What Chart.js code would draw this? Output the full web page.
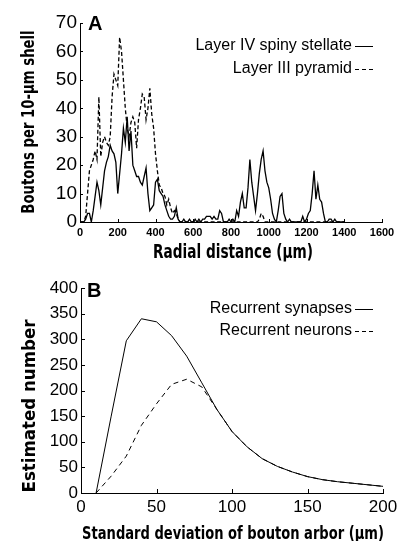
<!DOCTYPE html>
<html>
<head>
<meta charset="utf-8">
<script src="https://cdn.jsdelivr.net/npm/chart.js"></script>
<style>
  body { margin: 0; background: #fff; }
  #page { position: relative; width: 408px; height: 541px; overflow: hidden; font-family: "Liberation Sans", Arial, sans-serif; color: #000; }
  canvas { position: absolute; left: 0; }
  .txt { position: absolute; white-space: nowrap; line-height: 1; }
  .panel { font-weight: bold; font-size: 20px; }
  .title { font-family: "Liberation Sans Narrow", "DejaVu Sans Condensed", sans-serif; font-weight: bold; }
  .legend { font-size: 16px; right: 56px; text-align: right; }
  .swatch { position: absolute; left: 355px; width: 18px; height: 1px; background: #000; }
  .swatch.dash { background: repeating-linear-gradient(90deg, #000 0 4px, transparent 4px 7px); }
</style>
</head>
<body>
<div id="page">
  <canvas id="chartA" width="408" height="270" style="top:0"></canvas>
  <canvas id="chartB" width="408" height="271" style="top:270px"></canvas>

  <div class="txt panel" style="left:88px;top:13px">A</div>
  <div class="txt legend" style="top:37px">Layer IV spiny stellate</div>
  <div class="swatch" style="top:46px"></div>
  <div class="txt legend" style="top:60px">Layer III pyramid</div>
  <div class="swatch dash" style="top:69px"></div>
  <div class="txt title" id="titleAy" style="font-size:17px">Boutons per 10-&micro;m shell</div>
  <div class="txt title" id="titleAx" style="font-size:19px">Radial distance (&micro;m)</div>

  <div class="txt panel" style="left:87px;top:280px">B</div>
  <div class="txt legend" style="top:300px">Recurrent synapses</div>
  <div class="swatch" style="top:309px"></div>
  <div class="txt legend" style="top:322px">Recurrent neurons</div>
  <div class="swatch dash" style="top:331px"></div>
  <div class="txt title" id="titleBy" style="font-size:17px">Estimated number</div>
  <div class="txt title" id="titleBx" style="font-size:18px">Standard deviation of bouton arbor (&micro;m)</div>
</div>
<script>
// Panel A: boutons per 10-um shell vs radial distance
const radialDistance = [
  0,10,20,30,40,50,60,70,80,90,
  100,110,120,130,140,150,160,170,180,190,
  200,210,220,230,240,250,260,270,280,290,
  300,310,320,330,340,350,360,370,380,390,
  400,410,420,430,440,450,460,470,480,490,
  500,510,520,530,540,550,560,570,580,590,
  600,610,620,630,640,650,660,670,680,690,
  700,710,720,730,740,750,760,770,780,790,
  800,810,820,830,840,850,860,870,880,890,
  900,910,920,930,940,950,960,970,980,990,
  1000,1010,1020,1030,1040,1050,1060,1070,1080,1090,
  1100,1110,1120,1130,1140,1150,1160,1170,1180,1190,
  1200,1210,1220,1230,1240,1250,1260,1270,1280,1290,
  1300,1310,1320,1330,1340,1350,1360,1370,1380,1390,
  1400
];
const stellateBoutons = [
  0,0,0,1,3,3,0,4,9,14,
  11,6,12,18,21,23,27,25,24,21,
  10,17,24,33,28,37,25,32,20,18,
  16,16,14,13,16,19,10,4,5,6,
  14,15,11,10,9,6,4,2,1,1,
  2,5,1,0,0,1,0,0,1,0,
  0,1,0,1,0,1,1,2,2,2,
  1,2,1,1,4,3,0,0,0,1,
  0,1,0,4,2,7,10,5,5,12,
  22,14,9,4,10,17,22,25,18,14,
  12,8,3,1,0,4,9,10,3,1,
  0,1,0,0,0,0,0,0,2,0,
  1,3,4,10,18,8,13,8,7,3,
  0,0,1,1,0,1,0,0,0,0,
  0
];
const pyramidBoutons = [
  0,0,0,2,10,18,20,22,25,22,
  44,23,28,30,28,27,30,44,52,50,
  48,65,60,50,40,33,30,35,37,35,
  26,36,40,45,44,36,40,47,38,33,
  24,18,13,12,10,9,6,8,5,3,
  4,3,1,0,0,0,0,0,0,0,
  0,0,0,0,0,0,0,0,0,0,
  0,0,0,0,0,0,0,0,0,0,
  0,0,0,0,0,0,0,0,0,0,
  0,0,0,0,0,1,3,2,0,0,
  0,0,0,0,0,0,0,0,0,0,
  0,0,0,0,0,0,0,0,0,0,
  0,0,0,0,0,0,0,0,0,0,
  0,0,0,0,0,0,0,0,0,0,
  0
];
const radialTicks = [0,200,400,600,800,1000,1200,1400,1600];
const boutonTicks = [0,10,20,30,40,50,60,70];

// Panel B: estimated number vs SD of bouton arbor
const arborSD = [10,20,30,40,50,60,70,80,90,100,110,120,130,140,150,160,170,180,190,200];
const recurrentSynapses = [0,150,297,340,334,307,267,215,163,120,90,67,52,41,32,26,22,19,16,13];
const recurrentNeurons = [0,33,72,132,174,212,222,207,163,120,90,67,52,41,32,26,22,19,16,13];
const sdTicks = [0,50,100,150,200];
const numberTicks = [0,50,100,150,200,250,300,350,400];

// short tick marks pointing into the plot
const inwardTicks = {
  id: 'inwardTicks',
  afterDraw(chart, args, opts) {
    const {ctx, chartArea: a, scales: {x, y}} = chart;
    ctx.save();
    ctx.strokeStyle = '#000';
    ctx.lineWidth = 1;
    ctx.beginPath();
    x.ticks.forEach(t => {
      const px = Math.round(x.getPixelForValue(t.value)) + 0.5;
      ctx.moveTo(px, a.bottom);
      ctx.lineTo(px, a.bottom - opts.len);
    });
    y.ticks.forEach(t => {
      const py = Math.round(y.getPixelForValue(t.value)) + 0.5;
      ctx.moveTo(a.left, py);
      ctx.lineTo(a.left + opts.len, py);
    });
    ctx.stroke();
    ctx.restore();
  }
};

function axis(min, max, ticks, font, pad, size, horizontal) {
  return {
    type: 'linear', min: min, max: max,
    afterBuildTicks: s => { s.ticks = ticks.map(v => ({value: v})); },
    afterFit: s => { if (horizontal) s.height = size; else s.width = size; },
    grid: { drawOnChartArea: false, drawTicks: false },
    border: { color: '#000', width: 1 },
    ticks: { color: '#000', font: font, padding: pad, maxRotation: 0, autoSkip: false,
             callback: v => String(v) }
  };
}

function pts(xs, ys) { return xs.map((v, i) => ({x: v, y: ys[i]})); }

new Chart(document.getElementById('chartA'), {
  type: 'line',
  data: {
    datasets: [
      { label: 'Layer IV spiny stellate', data: pts(radialDistance, stellateBoutons),
        borderColor: '#000', borderWidth: 1.3, pointRadius: 0, tension: 0 },
      { label: 'Layer III pyramid', data: pts(radialDistance, pyramidBoutons),
        borderColor: '#000', borderWidth: 1.3, borderDash: [4, 2.5], pointRadius: 0, tension: 0 }
    ]
  },
  options: {
    responsive: false, animation: false,
    layout: { padding: { left: 0, top: 23, right: 26, bottom: 0 } },
    scales: {
      x: axis(0, 1600, radialTicks, { family: 'Liberation Sans', size: 11, weight: 'bold' }, 4, 48, true),
      y: axis(0, 70, boutonTicks, { family: 'Liberation Sans', size: 19 }, 3, 80, false)
    },
    plugins: { legend: { display: false }, tooltip: { enabled: false }, inwardTicks: { len: 3 } }
  },
  plugins: [inwardTicks]
});

new Chart(document.getElementById('chartB'), {
  type: 'line',
  data: {
    datasets: [
      { label: 'Recurrent synapses', data: pts(arborSD, recurrentSynapses),
        borderColor: '#000', borderWidth: 1, pointRadius: 0, tension: 0 },
      { label: 'Recurrent neurons', data: pts(arborSD, recurrentNeurons),
        borderColor: '#000', borderWidth: 1, borderDash: [5, 4], pointRadius: 0, tension: 0 }
    ]
  },
  options: {
    responsive: false, animation: false,
    layout: { padding: { left: 0, top: 18, right: 25, bottom: 0 } },
    scales: {
      x: axis(0, 200, sdTicks, { family: 'Liberation Sans', size: 17 }, 4, 48, true),
      y: axis(0, 400, numberTicks, { family: 'Liberation Sans', size: 17 }, 3, 81, false)
    },
    plugins: { legend: { display: false }, tooltip: { enabled: false }, inwardTicks: { len: 4 } }
  },
  plugins: [inwardTicks]
});

// axis titles: centre them and stretch to the reference length
function placeTitle(id, cx, cy, len, vertical) {
  const el = document.getElementById(id);
  const k = len / el.offsetWidth;
  el.style.left = cx + 'px';
  el.style.top = cy + 'px';
  el.style.transform = 'translate(-50%, -50%) ' + (vertical ? 'rotate(-90deg) ' : '') + 'scaleX(' + k + ')';
}
placeTitle('titleAy', 28, 121.5, 183, true);
placeTitle('titleAx', 233, 251, 160, false);
placeTitle('titleBy', 28.5, 405.5, 173, true);
placeTitle('titleBx', 233, 533, 302, false);
</script>
</body>
</html>
